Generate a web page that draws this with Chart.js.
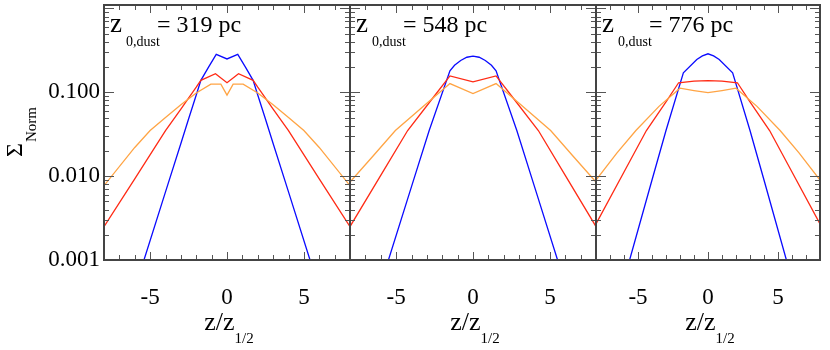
<!DOCTYPE html>
<html><head><meta charset="utf-8">
<script src="https://cdn.jsdelivr.net/npm/chart.js@4.4.1/dist/chart.umd.min.js"></script>
<style>
html,body{margin:0;padding:0;background:#fff;overflow:hidden;}
#wrap{position:relative;width:830px;height:350px;background:#fff;overflow:hidden;}
canvas{position:absolute;left:0;top:0;}
</style></head><body>
<div id="wrap">
<canvas id="c1" width="830" height="350"></canvas>
<canvas id="c2" width="830" height="350"></canvas>
<canvas id="c3" width="830" height="350"></canvas>
</div>
<script>
// ---- text / ticks ----
const panelTitles = ['319 pc', '548 pc', '776 pc'];
const yTickLabels = [0.1, 0.01, 0.001];
const xTickLabels = [-5, 0, 5];

// ---- panel 1 (z0,dust = 319 pc) ----
const p1BlueX = [-8, -6, -5.4, -4, -3, -2.5, -2, -1.7, -1.2, -0.7, 0, 0.7, 1.2, 1.7, 2, 2.5, 3, 4, 5.4, 6, 8];
const p1BlueY = [0.00004, 0.00046, 0.001, 0.0065, 0.0245, 0.048, 0.093, 0.139, 0.2, 0.283, 0.25, 0.283, 0.2, 0.139, 0.093, 0.048, 0.0245, 0.0065, 0.001, 0.00046, 0.00004];
const p1RedX = [-8, -6, -4, -3, -2, -1.7, -0.75, 0, 0.75, 1.7, 2, 3, 4, 6, 8];
const p1RedY = [0.0025, 0.0093, 0.035, 0.063, 0.115, 0.139, 0.167, 0.13, 0.167, 0.139, 0.115, 0.063, 0.035, 0.0093, 0.0025];
const p1OrangeX = [-8, -6, -5, -4, -3, -2, -1.05, -0.4, 0, 0.4, 1.05, 2, 3, 4, 5, 6, 8];
const p1OrangeY = [0.0077, 0.022, 0.035, 0.05, 0.071, 0.098, 0.125, 0.125, 0.0925, 0.125, 0.125, 0.098, 0.071, 0.05, 0.035, 0.022, 0.0077];

// ---- panel 2 (548 pc) ----
const p2BlueX = [-8, -6.5, -5.5, -4, -2.85, -1.5, -1.2, -0.8, -0.4, 0, 0.4, 0.8, 1.2, 1.5, 2.85, 4, 5.5, 6.5, 8];
const p2BlueY = [0.000035, 0.00026, 0.001, 0.0075, 0.035, 0.18, 0.21, 0.24, 0.262, 0.27, 0.262, 0.24, 0.21, 0.18, 0.035, 0.0075, 0.001, 0.00026, 0.000035];
const p2RedX = [-8, -6, -4.25, -2.5, -1.5, 0, 1.5, 2.5, 4.25, 6, 8];
const p2RedY = [0.0025, 0.0102, 0.035, 0.091, 0.157, 0.133, 0.157, 0.091, 0.035, 0.0102, 0.0025];
const p2OrangeX = [-8, -6.5, -5.05, -3, -1.5, 0, 1.5, 3, 5.05, 6.5, 8];
const p2OrangeY = [0.0085, 0.0174, 0.035, 0.074, 0.127, 0.0966, 0.127, 0.074, 0.035, 0.0174, 0.0085];

// ---- panel 3 (776 pc) ----
const p3BlueX = [-8, -5.6, -4, -3, -1.76, -0.8, -0.4, 0, 0.4, 0.8, 1.76, 3, 4, 5.6, 8];
const p3BlueY = [0.00004, 0.001, 0.009, 0.035, 0.171, 0.246, 0.272, 0.288, 0.272, 0.246, 0.171, 0.035, 0.009, 0.001, 0.00004];
const p3RedX = [-8, -6, -4.4, -3, -2.1, -1, 0, 1, 2.1, 3, 4.4, 6, 8];
const p3RedY = [0.0027, 0.0112, 0.035, 0.077, 0.13, 0.136, 0.138, 0.136, 0.13, 0.077, 0.035, 0.0112, 0.0027];
const p3OrangeX = [-8, -6.5, -5.15, -3.5, -2, -1, 0, 1, 2, 3.5, 5.15, 6.5, 8];
const p3OrangeY = [0.009, 0.019, 0.035, 0.068, 0.112, 0.105, 0.099, 0.105, 0.112, 0.068, 0.035, 0.019, 0.009];

const COLORS = {blue: '#0a0aff', red: '#ff2a14', orange: '#ffa444'};
const SERIF = '"Liberation Serif", "DejaVu Serif", serif';

const panels = [
  {id: 'c1', left: 104, right: 350, title: panelTitles[0], showY: true,
   series: [[p1OrangeX, p1OrangeY, COLORS.orange], [p1RedX, p1RedY, COLORS.red], [p1BlueX, p1BlueY, COLORS.blue]]},
  {id: 'c2', left: 350, right: 596, title: panelTitles[1], showY: false,
   series: [[p2OrangeX, p2OrangeY, COLORS.orange], [p2RedX, p2RedY, COLORS.red], [p2BlueX, p2BlueY, COLORS.blue]]},
  {id: 'c3', left: 596, right: 820, title: panelTitles[2], showY: false,
   series: [[p3OrangeX, p3OrangeY, COLORS.orange], [p3RedX, p3RedY, COLORS.red], [p3BlueX, p3BlueY, COLORS.blue]]}
];

function isLabelValue(v, list) { return list.some(t => Math.abs(v - t) < 1e-9 * Math.max(1, Math.abs(t)) || Math.abs(v - t) < 1e-12); }

const framePlugin = {
  id: 'frame',
  afterDraw(chart, args, opts) {
    const ctx = chart.ctx, a = chart.chartArea, xs = chart.scales.x, ys = chart.scales.y;
    ctx.save();
    ctx.strokeStyle = '#555';
    ctx.lineWidth = 1;
    const line = (x1, y1, x2, y2) => { ctx.beginPath(); ctx.moveTo(x1, y1); ctx.lineTo(x2, y2); ctx.stroke(); };
    // x ticks (inside, bottom and top)
    xs.ticks.forEach(t => {
      const px = Math.round(xs.getPixelForValue(t.value)) + 0.5;
      const L = (t.value % 5 === 0) ? 8 : 5;
      line(px, a.bottom, px, a.bottom - L);
      line(px, a.top, px, a.top + L);
    });
    // y ticks (inside, left and right)
    ys.ticks.forEach(t => {
      const v = t.value;
      const e = Math.log10(v);
      const m = v / Math.pow(10, Math.floor(e + 1e-9));
      if (Math.abs(m - Math.round(m)) > 1e-6) return;
      if (v > 1.0000001) return;
      const py = Math.round(ys.getPixelForValue(v)) + 0.5;
      const major = Math.abs(m - 1) < 1e-6;
      const L = major ? 10 : 5;
      line(a.left, py, a.left + L, py);
      line(a.right, py, a.right - L, py);
    });
    // frame
    ctx.lineWidth = 2;
    ctx.strokeStyle = '#444';
    ctx.strokeRect(a.left, a.top, a.right - a.left, a.bottom - a.top);

    // panel title: z_{0,dust} = ... pc
    ctx.fillStyle = '#000';
    ctx.textBaseline = 'alphabetic';
    ctx.textAlign = 'left';
    const tx = a.left + 6;
    ctx.font = '27px ' + SERIF;
    ctx.fillText('z', tx, 32);
    const zw = ctx.measureText('z').width;
    ctx.font = '14px ' + SERIF;
    ctx.fillText('0,dust', tx + zw + 4, 46);
    ctx.font = '24px ' + SERIF;
    ctx.fillText('= ' + opts.title, a.left + 53, 32);

    // x axis title: z/z_{1/2}
    const cx = (a.left + a.right) / 2;
    ctx.font = '26px ' + SERIF;
    const mainW = ctx.measureText('z/z').width;
    ctx.font = '15px ' + SERIF;
    const subW = ctx.measureText('1/2').width;
    const startX = cx + 2 - (mainW + subW) / 2;
    ctx.font = '26px ' + SERIF;
    ctx.fillText('z/z', startX, 330);
    ctx.font = '15px ' + SERIF;
    ctx.fillText('1/2', startX + mainW, 343);

    // y axis title: Sigma_Norm (rotated)
    if (opts.showY) {
      ctx.save();
      ctx.translate(22, 157);
      ctx.rotate(-Math.PI / 2);
      ctx.font = '24px ' + SERIF;
      ctx.fillText('\u03A3', 0, 0);
      const sw = ctx.measureText('\u03A3').width;
      ctx.font = '15px ' + SERIF;
      ctx.fillText('Norm', sw + 1, 14);
      ctx.restore();
    }
    ctx.restore();
  }
};

panels.forEach(p => {
  new Chart(document.getElementById(p.id), {
    type: 'line',
    data: {
      datasets: p.series.map(s => ({
        data: s[0].map((xv, i) => ({x: xv, y: s[1][i]})),
        borderColor: s[2], borderWidth: 1.3, pointRadius: 0, tension: 0, fill: false
      }))
    },
    options: {
      responsive: false, animation: false, devicePixelRatio: 1,
      layout: {padding: {left: p.showY ? 0 : p.left, right: 830 - p.right, top: 5, bottom: 0}},
      plugins: {legend: {display: false}, tooltip: {enabled: false}, title: {display: false},
                frame: {title: p.title, showY: p.showY}},
      scales: {
        x: {
          type: 'linear', min: -8, max: 8,
          grid: {display: false, drawTicks: false}, border: {display: false},
          ticks: {stepSize: 1, autoSkip: false, maxRotation: 0, minRotation: 0, padding: 24, color: '#000',
                  font: {family: SERIF, size: 23},
                  callback: v => isLabelValue(v, xTickLabels) ? String(v) : ''},
          afterFit: s => { s.height = 90; s.paddingLeft = 0; s.paddingRight = 0; }
        },
        y: {
          type: 'logarithmic', min: 0.001, max: 1.1,
          grid: {display: false, drawTicks: false}, border: {display: false},
          ticks: {display: p.showY, autoSkip: false, padding: 4, color: '#000',
                  font: {family: SERIF, size: 23},
                  callback: v => isLabelValue(v, yTickLabels) ? v.toFixed(3) : ''},
          afterFit: s => { s.width = p.showY ? p.left : 0; s.paddingTop = 0; s.paddingBottom = 0; }
        }
      }
    },
    plugins: [framePlugin]
  });
});
</script>
</body></html>
